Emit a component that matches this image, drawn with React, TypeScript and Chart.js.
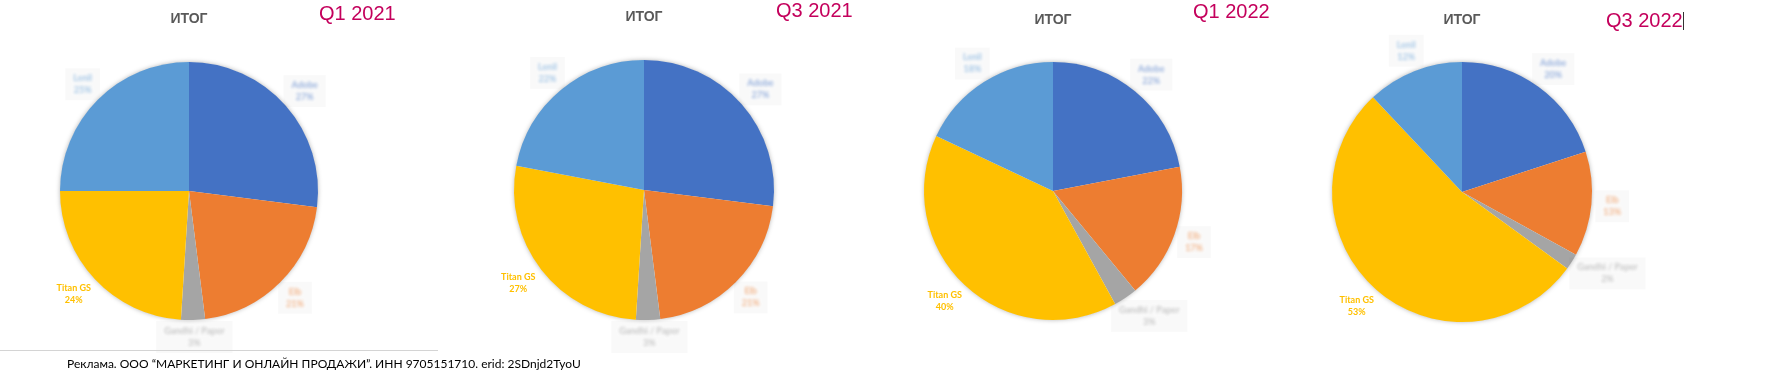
import React, { useEffect, useRef } from "react";
import { Chart, registerables } from "chart.js";

Chart.register(...registerables);

const categories = ["Adobe", "Elb", "Gandhi / Paper", "Titan GS", "Lenil"];
const q1_2021 = [27, 21, 3, 24, 25];
const q3_2021 = [27, 21, 3, 27, 22];
const q1_2022 = [22, 17, 3, 40, 18];
const q3_2022 = [20, 13, 2, 53, 12];
const periods = ["Q1 2021", "Q3 2021", "Q1 2022", "Q3 2022"];
const chartTitle = "ИТОГ";
const footerText = "Реклама. ООО “МАРКЕТИНГ И ОНЛАЙН ПРОДАЖИ”. ИНН 9705151710. erid: 2SDnjd2TyoU";

const sliceColors = ["#4472C4", "#ED7D31", "#A5A5A5", "#FFC000", "#5B9BD5"];
const labelColors = ["#4472C4", "#ED7D31", "#9a9a9a", "#FFC000", "#5B9BD5"];
const sharpLabel = [false, false, false, true, false];

const seriesList = [q1_2021, q3_2021, q1_2022, q3_2022];

// layout (positions only)
const layouts = [
  { cx: 189, cy: 191, r: 129, ty: 19, qx: 319, qy: 12.5 },
  { cx: 644, cy: 190, r: 130, ty: 17, qx: 776, qy: 10 },
  { cx: 1053, cy: 191, r: 129, ty: 20, qx: 1193, qy: 11 },
  { cx: 1462, cy: 192, r: 130, ty: 20, qx: 1606, qy: 20 },
];
const CW = 450;
const CH = 383;

const shadowPlugin = {
  id: "pieShadow",
  beforeDatasetsDraw(chart: any) {
    const meta = chart.getDatasetMeta(0);
    const arc = meta.data[0];
    if (!arc) return;
    const { x, y, outerRadius } = arc.getProps(["x", "y", "outerRadius"], true);
    const ctx = chart.ctx;
    ctx.save();
    ctx.shadowColor = "rgba(0,0,0,0.35)";
    ctx.shadowBlur = 5;
    ctx.fillStyle = "#ffffff";
    ctx.beginPath();
    ctx.arc(x, y, outerRadius - 0.5, 0, Math.PI * 2);
    ctx.fill();
    ctx.restore();
  },
};

const labelPlugin = {
  id: "pieLabels",
  afterDatasetsDraw(chart: any) {
    const meta = chart.getDatasetMeta(0);
    const data = chart.data.datasets[0].data as number[];
    const ctx = chart.ctx;
    meta.data.forEach((arc: any, i: number) => {
      const { x, y, startAngle, endAngle, outerRadius } = arc.getProps(
        ["x", "y", "startAngle", "endAngle", "outerRadius"],
        true
      );
      const mid = (startAngle + endAngle) / 2;
      const name = chart.data.labels[i] as string;
      const pct = data[i] + "%";
      ctx.save();
      ctx.font = "bold 9px Lato";
      ctx.textAlign = "center";
      ctx.textBaseline = "middle";
      const tw = Math.max(ctx.measureText(name).width, ctx.measureText(pct).width);
      const bw = tw + 4;
      const bh = 24;
      const g = 10;
      const dx = Math.cos(mid);
      const dy = Math.sin(mid);
      let lx = x + dx * (outerRadius + g) + (dx * bw) / 2;
      let ly = y + dy * (outerRadius + g) + (dy * bh) / 2;
      ly = Math.min(ly, 337);
      if (!sharpLabel[i]) {
        const w = tw + 16;
        ctx.fillStyle = "rgba(0,0,0,0.025)";
        ctx.fillRect(lx - w / 2, ly - 16, w, 32);
        ctx.filter = "blur(1.6px)";
        ctx.globalAlpha = 0.55;
      }
      ctx.fillStyle = labelColors[i];
      ctx.fillText(name, lx, ly - 6);
      ctx.fillText(pct, lx, ly + 6);
      ctx.restore();
    });
  },
};

function PieChart({ idx }: { idx: number }) {
  const ref = useRef<HTMLCanvasElement | null>(null);
  const L = layouts[idx];
  useEffect(() => {
    if (!ref.current) return;
    const lineH = 16.8;
    const pt = L.ty - lineH / 2;
    const pb = 10;
    const H = pt + lineH + pb;
    const side = CW / 2 - L.r;
    const bottom = CH - 2 * L.cy + H;
    const chart = new Chart(ref.current, {
      type: "pie",
      data: {
        labels: categories,
        datasets: [
          {
            data: seriesList[idx],
            backgroundColor: sliceColors,
            borderWidth: 0,
          },
        ],
      },
      options: {
        responsive: false,
        animation: false,
        layout: { padding: { left: side, right: side, top: 0, bottom } },
        plugins: {
          legend: { display: false },
          tooltip: { enabled: false },
          title: {
            display: true,
            text: chartTitle,
            color: "#595959",
            font: { family: "Liberation Sans", size: 14, weight: "bold", lineHeight: 1.2 },
            padding: { top: pt, bottom: pb },
          },
        },
      },
      plugins: [shadowPlugin, labelPlugin],
    } as any);
    return () => chart.destroy();
  }, [idx]);
  return (
    <canvas
      ref={ref}
      width={CW}
      height={CH}
      style={{ position: "absolute", left: L.cx - CW / 2, top: 0, width: CW, height: CH }}
    />
  );
}

export default function App() {
  return (
    <div
      style={{
        position: "fixed",
        left: 0,
        top: 0,
        width: 1789,
        height: 383,
        background: "#ffffff",
        overflow: "hidden",
      }}
    >
      {layouts.map((_, i) => (
        <PieChart key={i} idx={i} />
      ))}
      {layouts.map((L, i) => (
        <div
          key={"q" + i}
          style={{
            position: "absolute",
            left: L.qx,
            top: L.qy - 12,
            height: 24,
            lineHeight: "24px",
            fontFamily: '"Liberation Sans", Arial, sans-serif',
            fontSize: 20,
            color: "#C4005C",
            whiteSpace: "nowrap",
          }}
        >
          {periods[i]}
        </div>
      ))}
      <div
        style={{
          position: "absolute",
          left: 1683,
          top: 12,
          width: 1,
          height: 18,
          background: "#333",
        }}
      />
      <div
        style={{
          position: "absolute",
          left: 0,
          top: 350,
          width: 438,
          height: 1,
          background: "#d4d4d4",
        }}
      />
      <div
        style={{
          position: "absolute",
          left: 67,
          top: 356,
          lineHeight: "16px",
          fontFamily: "Lato, sans-serif",
          fontSize: 12,
          color: "#000",
          whiteSpace: "nowrap",
        }}
      >
        {footerText}
      </div>
    </div>
  );
}
